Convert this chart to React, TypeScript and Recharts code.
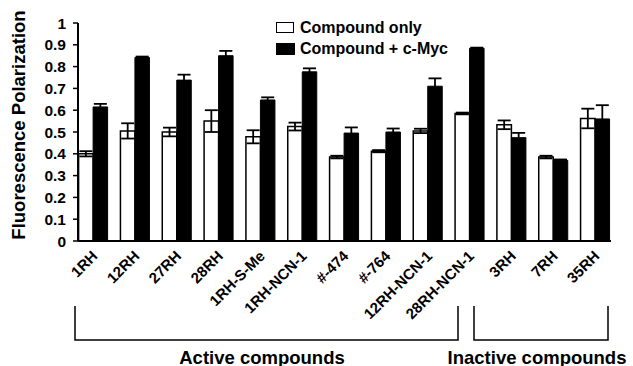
import { BarChart, Bar, XAxis, YAxis, ErrorBar, Legend } from "recharts";

const FONT = "'Liberation Sans', Arial, sans-serif";

const categories = [
  "1RH",
  "12RH",
  "27RH",
  "28RH",
  "1RH-S-Me",
  "1RH-NCN-1",
  "#-474",
  "#-764",
  "12RH-NCN-1",
  "28RH-NCN-1",
  "3RH",
  "7RH",
  "35RH",
];
const compoundOnly = [0.4, 0.505, 0.5, 0.55, 0.478, 0.525, 0.385, 0.412, 0.505, 0.585, 0.533, 0.385, 0.562];
const compoundOnlyErr = [0.012, 0.035, 0.02, 0.05, 0.03, 0.018, 0.006, 0.005, 0.01, 0.004, 0.02, 0.006, 0.045];
const withMyc = [0.615, 0.842, 0.738, 0.85, 0.647, 0.776, 0.495, 0.5, 0.71, 0.884, 0.474, 0.37, 0.56];
const withMycErr = [0.014, 0.004, 0.025, 0.022, 0.012, 0.016, 0.026, 0.016, 0.036, 0.003, 0.022, 0.004, 0.063];
const yTicks = [0, 0.1, 0.2, 0.3, 0.4, 0.5, 0.6, 0.7, 0.8, 0.9, 1];

const data = categories.map((name, i) => ({
  name,
  only: compoundOnly[i],
  onlyErr: compoundOnlyErr[i],
  myc: withMyc[i],
  mycErr: withMycErr[i],
}));

const XTick = (props: any) => {
  const { x, y, payload } = props;
  const ax = x + 5;
  const ay = y + 8;
  return (
    <text
      x={ax}
      y={ay}
      transform={`rotate(-45, ${ax}, ${ay})`}
      textAnchor="end"
      fontFamily={FONT}
      fontWeight="bold"
      fontSize={15}
      fill="#000"
    >
      {payload.value}
    </text>
  );
};

const LegendBox = () => (
  <div style={{ fontFamily: FONT, fontWeight: "bold", fontSize: 16, color: "#000", lineHeight: "21px" }}>
    <div style={{ display: "flex", alignItems: "center" }}>
      <span style={{ width: 16, height: 9, border: "1.5px solid #000", background: "#fff", marginRight: 6 }} />
      Compound only
    </div>
    <div style={{ display: "flex", alignItems: "center" }}>
      <span style={{ width: 19, height: 12, background: "#000", marginRight: 5 }} />
      Compound + c-Myc
    </div>
  </div>
);

export default function App() {
  return (
    <div style={{ position: "absolute", left: 0, top: 0, width: 633, height: 366, background: "#fff" }}>
      <BarChart
        width={633}
        height={366}
        data={data}
        margin={{ top: 23, right: 22, left: 0, bottom: 65 }}
        barGap={0}
        barSize={14.5}
      >
        <XAxis
          dataKey="name"
          interval={0}
          tickLine={false}
          axisLine={{ stroke: "#000", strokeWidth: 2 }}
          padding={{ left: -5.4, right: -5.4 }}
          height={60}
          tick={<XTick />}
        />
        <YAxis
          width={78}
          domain={[0, 1]}
          ticks={yTicks}
          interval={0}
          tickFormatter={(v: number) => (v === 0 || v === 1 ? String(v) : v.toFixed(1))}
          axisLine={{ stroke: "#000", strokeWidth: 2 }}
          tickLine={{ stroke: "#000", strokeWidth: 1.5 }}
          tickSize={5}
          tickMargin={7}
          tick={{ fontFamily: FONT, fontWeight: "bold", fontSize: 15.5, fill: "#000" }}
        />
        <Legend
          layout="vertical"
          align="center"
          verticalAlign="middle"
          wrapperStyle={{ left: 276, top: 17, width: 200 }}
          content={<LegendBox />}
        />
        <Bar dataKey="only" fill="#fff" stroke="#000" strokeWidth={1.5} isAnimationActive={false}>
          <ErrorBar dataKey="onlyErr" width={6.5} stroke="#000" strokeWidth={1.8} direction="y" isAnimationActive={false} />
        </Bar>
        <Bar dataKey="myc" fill="#000" stroke="#000" strokeWidth={1} isAnimationActive={false}>
          <ErrorBar dataKey="mycErr" width={6.5} stroke="#000" strokeWidth={1.8} direction="y" isAnimationActive={false} />
        </Bar>
      </BarChart>
      <svg width={633} height={366} style={{ position: "absolute", left: 0, top: 0, pointerEvents: "none" }}>
        <text
          x={18.5}
          y={125}
          transform="rotate(-90, 18.5, 125)"
          textAnchor="middle"
          dominantBaseline="central"
          fontFamily={FONT}
          fontWeight="bold"
          fontSize={18.5}
          fill="#000"
        >
          Fluorescence Polarization
        </text>
        <polyline points="75,306 75,340 458,340 458,306" fill="none" stroke="#000" strokeWidth={1.5} />
        <polyline points="474,306 474,340 608,340 608,306" fill="none" stroke="#000" strokeWidth={1.5} />
        <text x={262} y={357} textAnchor="middle" dominantBaseline="central" fontFamily={FONT} fontWeight="bold" fontSize={18.5} fill="#000">
          Active compounds
        </text>
        <text x={537} y={357} textAnchor="middle" dominantBaseline="central" fontFamily={FONT} fontWeight="bold" fontSize={18.5} fill="#000">
          Inactive compounds
        </text>
      </svg>
    </div>
  );
}
